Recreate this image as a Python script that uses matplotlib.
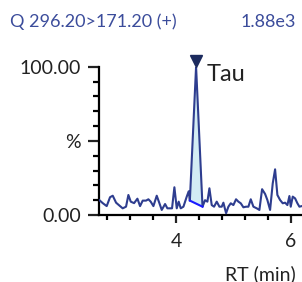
import matplotlib
matplotlib.use("Agg")
import matplotlib.pyplot as plt
import numpy as np

plt.rcParams['font.family'] = ['Lato', 'DejaVu Sans']

title_left = "Q 296.20>171.20 (+)"
title_right = "1.88e3"
peak_label = "Tau"
x_label = "RT (min)"

rt = [2.667, 2.725, 2.794, 2.852, 2.899, 2.957, 3.026, 3.072, 3.130, 3.171,
      3.212, 3.270, 3.328, 3.374, 3.420, 3.478, 3.519, 3.559, 3.606, 3.664,
      3.710, 3.751, 3.809, 3.849, 3.896, 3.930, 3.971, 4.012, 4.046, 4.081,
      4.128, 4.186, 4.220, 4.240, 4.348, 4.460, 4.504, 4.545, 4.580, 4.620,
      4.661, 4.707, 4.754, 4.794, 4.823, 4.870, 4.910, 4.951, 4.997, 5.043,
      5.084, 5.125, 5.171, 5.217, 5.258, 5.299, 5.345, 5.403, 5.449, 5.496,
      5.548, 5.588, 5.635, 5.681, 5.722, 5.762, 5.809, 5.855, 5.896, 5.936,
      5.971, 5.994, 6.029, 6.070, 6.110, 6.145, 6.186]
intensity = [10.0, 8.0, 6.0, 12.0, 13.0, 8.3, 6.0, 4.5, 5.6, 13.5,
             9.0, 8.0, 11.0, 6.0, 9.7, 9.7, 10.6, 9.0, 6.0, 13.0,
             8.0, 3.4, 7.4, 4.5, 4.5, 4.5, 18.7, 4.5, 9.0, 4.5,
             5.6, 12.4, 16.0, 9.7, 100.0, 5.6, 10.0, 9.0, 18.0, 6.7,
             5.6, 9.0, 5.6, 5.6, 8.3, 1.2, 5.6, 7.9, 6.7, 10.6,
             9.0, 7.9, 5.2, 5.6, 5.6, 10.6, 5.6, 4.5, 3.4, 17.4,
             14.2, 10.1, 3.4, 21.3, 30.8, 13.5, 10.1, 7.9, 8.3, 6.7,
             12.8, 5.6, 12.4, 11.2, 7.9, 5.6, 6.0]
peak_start, peak_apex, peak_end = 4.240, 4.348, 4.460
base_start, base_end = 9.7, 5.6

fig = plt.figure(figsize=(3.02, 2.82), dpi=100)
ax = fig.add_axes([99/302, 67/282, 203/302, 148.3/282])

rt_a = np.array(rt)
it_a = np.array(intensity)
mask = (rt_a >= peak_start) & (rt_a <= peak_end)
base = np.interp(rt_a[mask], [peak_start, peak_end], [base_start, base_end])
ax.fill_between(rt_a[mask], base, it_a[mask], color='#d3ecf4', lw=0, zorder=1)
ax.plot(rt_a, it_a, color='#2e3d8f', lw=1.5, zorder=3)
ax.plot([peak_start, peak_end], [base_start, base_end], color='#1a1aff', lw=1.5, zorder=4)
apex_y = it_a[np.argmin(np.abs(rt_a - peak_apex))]
ax.plot([peak_apex], [apex_y + 4], marker='v', markersize=8, color='#1c2b5e',
        clip_on=False, zorder=5)
ax.text(4.54, 94.5, peak_label, fontsize=17, color='#222222', ha='left', va='center')

for s in ['top', 'right']:
    ax.spines[s].set_visible(False)
for s in ['left', 'bottom']:
    ax.spines[s].set_linewidth(1.6)
ax.set_xticks([2, 4, 6])
ax.set_xticklabels(['2', '4', '6'])
ax.set_xticks([2.4, 2.8, 3.2, 3.6, 4.4, 4.8, 5.2, 5.6, 6.4], minor=True)
ax.set_yticks([0, 50, 100])
ax.set_yticklabels(['0.00', '%', '100.00'])
ax.set_yticks([10, 20, 30, 40, 60, 70, 80, 90], minor=True)
ax.set_xlim(2.66, 6.19)
ax.set_ylim(0, 100)
ax.tick_params(axis='y', which='major', length=8, width=1.6, labelsize=14,
               colors='#222222', pad=5)
ax.tick_params(axis='y', which='minor', length=4.5, width=1.6)
ax.tick_params(axis='x', which='major', length=6, width=1.6, labelsize=14,
               colors='#222222', pad=7)
ax.tick_params(axis='x', which='minor', length=3.5, width=1.6)

fig.text(10/302, 1 - 22/282, title_left, fontsize=13, color='#3b4c9b',
         ha='left', va='center')
fig.text(296/302, 1 - 22/282, title_right, fontsize=13, color='#3b4c9b',
         ha='right', va='center')
fig.text(296/302, 1 - 274/282, x_label, fontsize=14, color='#222222',
         ha='right', va='center')

fig.savefig('out.png', dpi=100)
